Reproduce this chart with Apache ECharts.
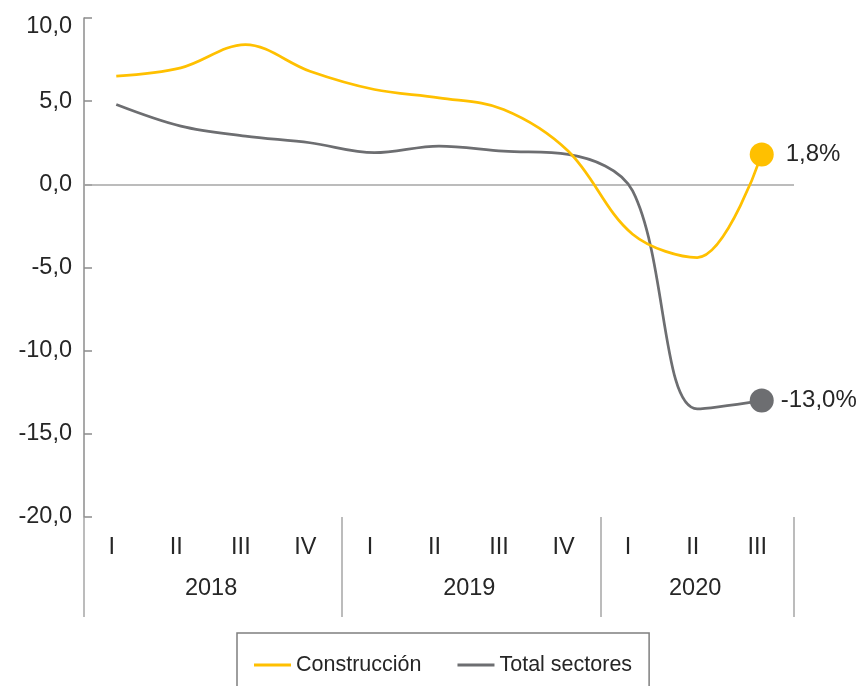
<!DOCTYPE html>
<html><head><meta charset="utf-8">
<script src="https://cdn.jsdelivr.net/npm/echarts@6/dist/echarts.min.js"></script>
<style>html,body{margin:0;padding:0;background:#fff}#c{width:860px;height:686px}</style>
</head><body><div id="c"></div>
<script>
// ---- data ----
const quarters = ['I','II','III','IV','I','II','III','IV','I','II','III'];
const years = ['2018','2019','2020'];
const quartersPerYear = [4, 4, 3];
const construccion = [6.5, 7.0, 8.4, 6.8, 5.7, 5.2, 4.5, 2.0, -3.0, -4.4, 1.8];
const totalSectores = [4.8, 3.5, 2.9, 2.5, 1.9, 2.3, 2.0, 1.8, -0.4, -13.5, -13.0];
const yMin = -20, yMax = 10, yStep = 5;

// ---- helpers ----
const FONT = "'Liberation Sans', Arial, sans-serif";
const TXT = '#262626';
const AXISC = '#8c8c8c';
const AX_FS = 23.5;
const fmt1 = v => v.toFixed(1).replace('.', ',');
const catKeys = quarters.map((q, i) => q + '_' + i);
const yearBounds = [0];
quartersPerYear.forEach(n => yearBounds.push(yearBounds[yearBounds.length - 1] + n));
const yearCenters = quartersPerYear.map((n, i) => yearBounds[i] + n / 2);

function withEndMarker(arr, dist) {
  return arr.map((v, i) => i === arr.length - 1 ? {
    value: v, symbolSize: 24,
    label: { show: true, position: 'right', distance: dist, fontSize: 24, color: TXT, fontFamily: FONT,
      formatter: p => fmt1(p.value) + '%' }
  } : v);
}

const chart = echarts.init(document.getElementById('c'), null, { renderer: 'canvas' });
chart.setOption({
  animation: false,
  textStyle: { fontFamily: FONT },
  grid: { left: 84, right: 66, top: 18, bottom: 169, containLabel: false },
  legend: {
    left: 237, top: 633, padding: [21, 17, 30, 17],
    borderColor: '#7f7f7f', borderWidth: 1.5,
    itemGap: 36, itemWidth: 37, itemHeight: 3, icon: 'rect',
    textStyle: { fontSize: 21.5, color: TXT, fontFamily: FONT },
    data: ['Construcción', 'Total sectores']
  },
  xAxis: [{
    type: 'category', data: catKeys, boundaryGap: true,
    axisLine: { show: false }, axisTick: { show: false }, splitLine: { show: false },
    axisLabel: { interval: 0, margin: 19, fontSize: AX_FS, color: TXT, fontFamily: FONT,
      padding: [0, 9, 0, 0],
      formatter: v => v.split('_')[0] }
  }, {
    type: 'value', min: 0, max: quarters.length, position: 'bottom',
    axisLine: { show: false }, splitLine: { show: false },
    axisTick: { show: true, length: 100, customValues: yearBounds, lineStyle: { color: '#a6a6a6', width: 1.5 } },
    axisLabel: { show: true, margin: 60, fontSize: AX_FS, color: TXT, fontFamily: FONT,
      padding: [0, 4, 0, 0],
      customValues: yearCenters,
      formatter: v => { const k = yearCenters.findIndex(c => Math.abs(c - v) < 1e-6); return k >= 0 ? years[k] : ''; } }
  }],
  yAxis: {
    type: 'value', min: yMin, max: yMax, interval: yStep,
    axisLine: { show: true, lineStyle: { color: AXISC, width: 1.5 } },
    axisTick: { show: true, inside: true, length: 8, lineStyle: { color: AXISC, width: 1.5 } },
    splitLine: { show: false },
    axisLabel: { margin: 12, fontSize: AX_FS, color: TXT, fontFamily: FONT,
      formatter: v => v === yMax ? '{t|' + fmt1(v) + '}' : fmt1(v),
      rich: { t: { padding: [18, 0, 0, 0], fontSize: AX_FS, color: TXT, fontFamily: FONT } } }
  },
  series: [{
    name: 'Total sectores', type: 'line', xAxisIndex: 0,
    data: withEndMarker(totalSectores, 7),
    smooth: 0.35, symbol: 'circle', symbolSize: 0, showAllSymbol: true,
    lineStyle: { color: '#6d6e71', width: 2.75 }, itemStyle: { color: '#6d6e71' },
    emphasis: { disabled: true },
    markLine: { silent: true, z: 1, symbol: ['none', 'none'], label: { show: false },
      lineStyle: { color: '#a6a6a6', width: 1.5, type: 'solid' }, data: [{ yAxis: 0 }] }
  }, {
    name: 'Construcción', type: 'line', xAxisIndex: 0,
    data: withEndMarker(construccion, 12),
    smooth: 0.35, symbol: 'circle', symbolSize: 0, showAllSymbol: true,
    lineStyle: { color: '#ffc000', width: 2.75 }, itemStyle: { color: '#ffc000' },
    emphasis: { disabled: true }
  }]
});
</script></body></html>
